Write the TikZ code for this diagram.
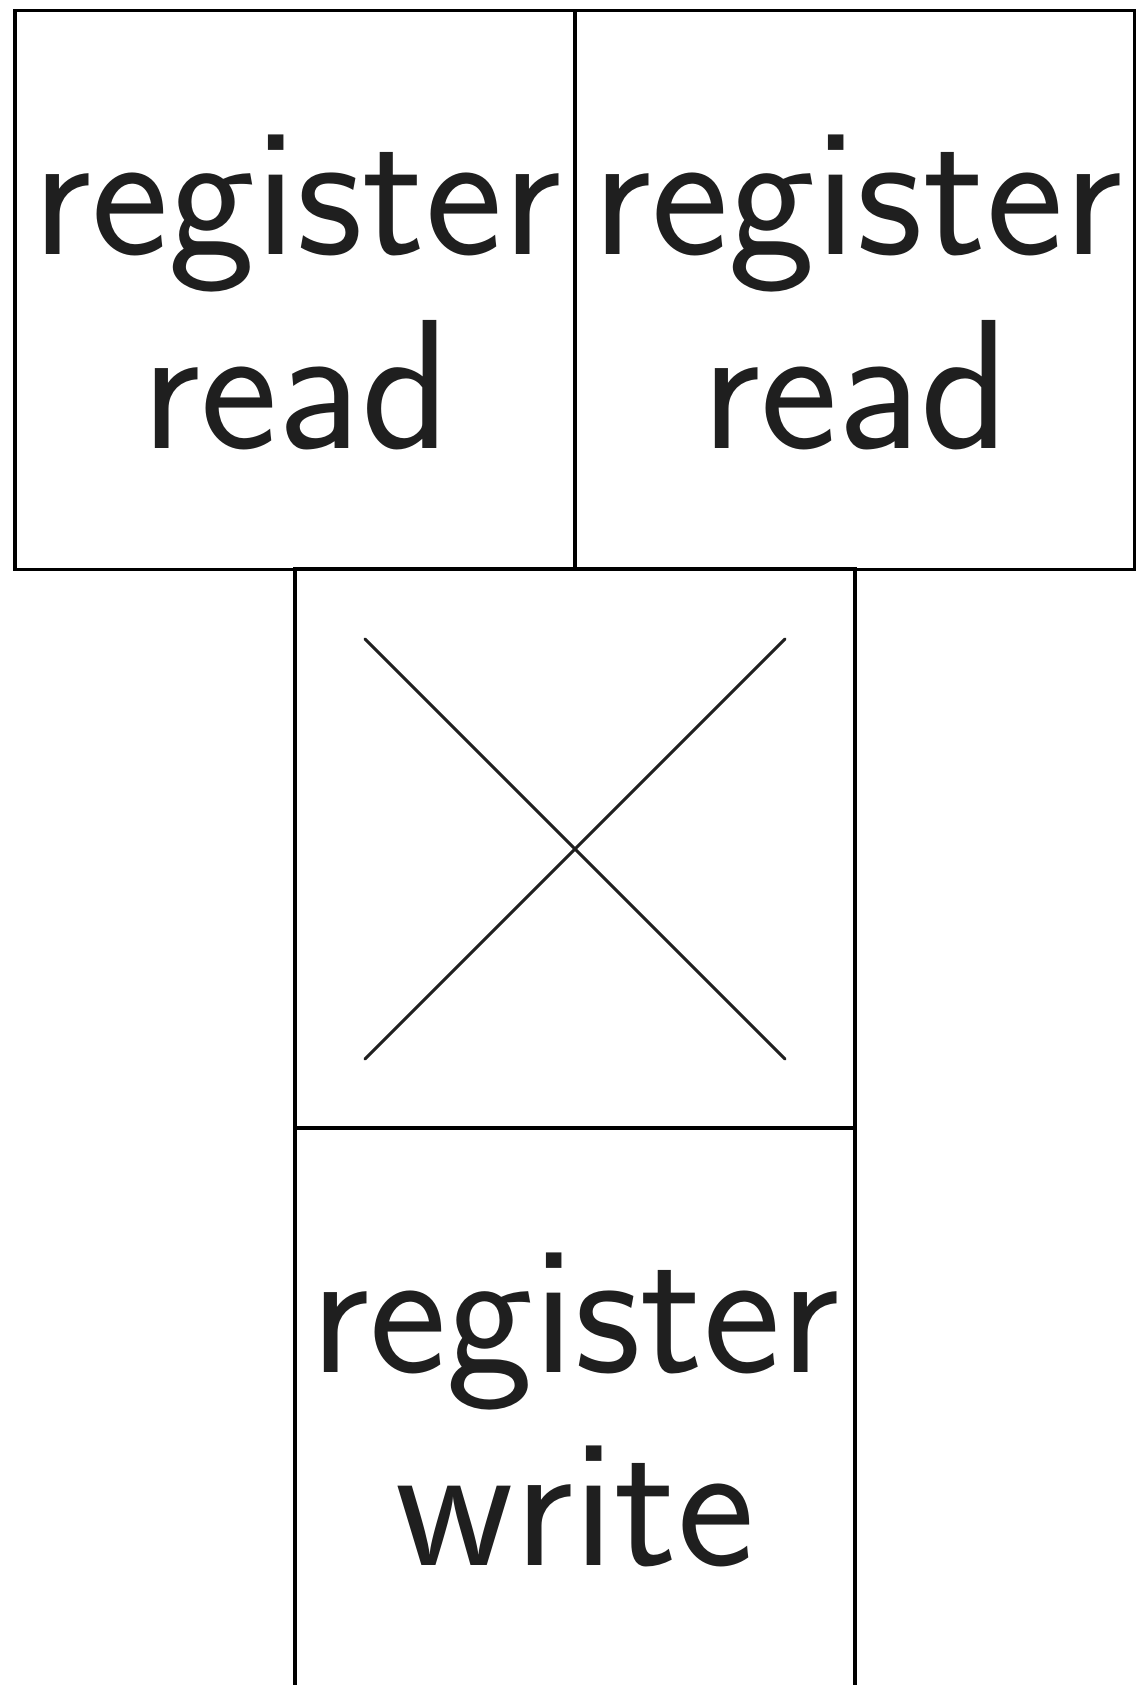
\documentclass[tikz,border=0pt]{standalone}
\begin{document}
\begin{tikzpicture}[x=0.0071429cm, y=-0.0071429cm,
  cell/.style={draw, line width=0.75pt, minimum width=3.9964cm, minimum height=3.99cm, inner sep=0pt, outer sep=0pt},
  lbl/.style={font=\fontsize{37.5}{44}\selectfont\sffamily, anchor=base, inner sep=0pt, text=black!88},
  cross/.style={line width=0.6pt, line cap=round, draw=black!88}]
\useasboundingbox (0,0) rectangle (1136,1685);
\node[cell] (c1) at (295,290) {};
\node[cell] (c2) at (854.5,290) {};
\node[cell] (c3) at (575,848.5) {};
\node[cell] (c4) at (575,1408) {};
\node[lbl] (t1a) at (297,254.7) {register};
\node[lbl] (t1b) at (296,448.2) {read};
\node[lbl] (t2a) at (857.5,254.7) {register};
\node[lbl] (t2b) at (855.5,448.2) {read};
\node[lbl] (t4a) at (575,1372.4) {register};
\node[lbl] (t4b) at (575,1565.8) {write};
\coordinate (xa) at (365,639);
\coordinate (xb) at (785,1059);
\coordinate (xc) at (785,639);
\coordinate (xd) at (365,1059);
\draw[cross] (xa) -- (xb);
\draw[cross] (xc) -- (xd);
\end{tikzpicture}
\end{document}
